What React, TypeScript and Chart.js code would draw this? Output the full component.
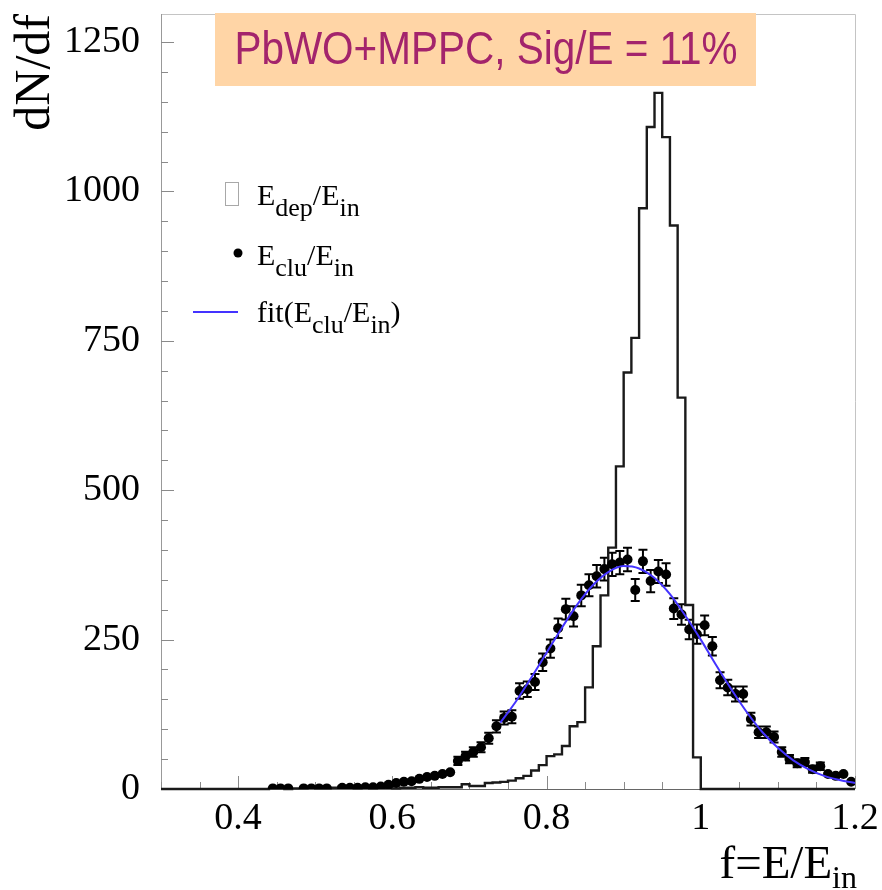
import React, { useEffect, useRef } from 'react';
import { Chart, registerables } from 'chart.js';

Chart.register(...registerables);

// ---------------- data ----------------
const X_MIN = 0.3;
const X_MAX = 1.2;
const Y_MIN = 0;
const Y_MAX = 1297;

const X_TICKS = [0.4, 0.6, 0.8, 1.0, 1.2];
const Y_TICKS = [0, 250, 500, 750, 1000, 1250];

// E_dep/E_in histogram: bins of width 0.01 starting at 0.30
const HIST_LO = 0.3;
const HIST_BIN = 0.01;
const HIST_COUNTS = [
  0, 0, 0, 0, 0, 0, 0, 0, 0, 0, // 0.30-0.39
  0, 0, 0, 0, 1, 1, 0, 1, 1, 2, // 0.40-0.49
  1, 1, 2, 4, 2, 1, 2, 1, 2, 2, // 0.50-0.59
  1, 2, 2, 3, 2, 2, 3, 3, 3, 8, // 0.60-0.69
  5, 5, 10, 11, 12, 14, 18, 22, 31, 40, // 0.70-0.79
  55, 58, 72, 105, 112, 170, 239, 324, 404, 540, // 0.80-0.89
  697, 755, 972, 1108, 1165, 1091, 943, 655, 308, 53, // 0.90-0.99
  0, 0, 0, 0, 0, 0, 0, 0, 0, 0, // 1.00-1.09
  0, 0, 0, 0, 0, 0, 0, 0, 0, 0, // 1.10-1.19
];

// E_clu/E_in points (bin centres)
const PT_X = [
  0.445, 0.455, 0.465, 0.485, 0.495, 0.505, 0.515, 0.535, 0.545, 0.555, 0.565, 0.575, 0.585,
  0.595, 0.605, 0.615, 0.625, 0.635, 0.645, 0.655, 0.665, 0.675,
  0.685, 0.695, 0.705, 0.715, 0.725, 0.735, 0.745, 0.755,
  0.765, 0.775, 0.785, 0.795, 0.805,
  0.815, 0.825, 0.835, 0.845, 0.855, 0.865, 0.875, 0.885, 0.895, 0.905,
  0.915, 0.925, 0.935, 0.945, 0.955, 0.965, 0.975, 0.985, 0.995,
  1.005, 1.015, 1.025, 1.035, 1.045, 1.055, 1.065, 1.075, 1.085, 1.095,
  1.105, 1.115, 1.125, 1.135, 1.145, 1.155, 1.165, 1.175, 1.185, 1.195,
];
const PT_Y = [
  1, 1, 1, 1, 1, 1, 1, 2, 2, 2, 3, 3, 4,
  7, 10, 12, 13, 17, 20, 22, 25, 28,
  47, 55, 62, 70, 85, 105, 119, 121,
  164, 167, 179, 212, 235,
  269, 301, 289, 324, 341, 356, 368, 376, 379, 384,
  333, 381, 348, 364, 359, 302, 292, 267, 259,
  274, 239, 182, 170, 159, 159, 117, 95, 95, 87,
  62, 50, 43, 45, 33, 38, 25, 22, 25, 12,
];

// fit(E_clu/E_in) curve
const FIT_X = [
  0.74, 0.76, 0.78, 0.8, 0.82, 0.84, 0.86, 0.88, 0.9, 0.92, 0.94, 0.96,
  0.98, 1.0, 1.02, 1.04, 1.06, 1.08, 1.1, 1.12, 1.14, 1.16, 1.18, 1.2,
];
const FIT_Y = [
  111, 146, 186, 228, 270, 309, 341, 363, 373, 369, 353, 326,
  290, 250, 207, 166, 128, 95, 69, 48, 33, 22, 15, 10,
];

const TITLE = 'PbWO+MPPC, Sig/E = 11%';

// ---------------- helpers ----------------
type Part = { t: string; sub?: boolean };

function drawRich(
  ctx: CanvasRenderingContext2D,
  x: number,
  base: number,
  parts: Part[],
  size: number,
  subSize: number,
  subDy: number,
  align: 'left' | 'right' = 'left'
) {
  const mainFont = `${size}px "Liberation Serif"`;
  const subFont = `${subSize}px "Liberation Serif"`;
  let w = 0;
  parts.forEach((p) => {
    ctx.font = p.sub ? subFont : mainFont;
    w += ctx.measureText(p.t).width;
  });
  let cx = align === 'right' ? x - w : x;
  ctx.textAlign = 'left';
  ctx.textBaseline = 'alphabetic';
  parts.forEach((p) => {
    ctx.font = p.sub ? subFont : mainFont;
    ctx.fillText(p.t, cx, p.sub ? base + subDy : base);
    cx += ctx.measureText(p.t).width;
  });
}

const rootPlugin = {
  id: 'rootStyle',
  beforeDatasetsDraw(chart: any) {
    const { ctx, chartArea: a, scales } = chart;
    const xs = scales.x;
    const ys = scales.y;
    ctx.save();
    // frame
    ctx.lineWidth = 1;
    ctx.strokeStyle = '#c4c4c4';
    ctx.beginPath();
    ctx.moveTo(a.left, a.top + 0.5);
    ctx.lineTo(a.right + 0.5, a.top + 0.5);
    ctx.lineTo(a.right + 0.5, a.bottom);
    ctx.stroke();
    ctx.strokeStyle = '#999';
    ctx.beginPath();
    ctx.moveTo(a.left + 0.5, a.top);
    ctx.lineTo(a.left + 0.5, a.bottom);
    ctx.stroke();
    ctx.strokeStyle = '#666';
    ctx.beginPath();
    ctx.moveTo(a.left, a.bottom + 0.5);
    ctx.lineTo(a.right, a.bottom + 0.5);
    ctx.stroke();

    // ticks (inward)
    ctx.strokeStyle = '#8a8a8a';
    ctx.beginPath();
    for (let v = 0; v <= Y_MAX; v += 50) {
      const py = Math.round(ys.getPixelForValue(v)) + 0.5;
      const len = Y_TICKS.includes(v) ? 13 : 7;
      ctx.moveTo(a.left, py);
      ctx.lineTo(a.left + len, py);
    }
    for (let i = 0; i <= 18; i++) {
      const v = X_MIN + i * 0.05;
      const px = Math.round(xs.getPixelForValue(v)) + 0.5;
      const major = X_TICKS.some((t) => Math.abs(t - v) < 1e-6);
      const len = major ? 13 : 7;
      ctx.moveTo(px, a.bottom);
      ctx.lineTo(px, a.bottom - len);
    }
    ctx.stroke();

    // error bars on E_clu points (Poisson)
    ctx.strokeStyle = '#000';
    ctx.lineWidth = 2;
    ctx.beginPath();
    PT_X.forEach((xv, i) => {
      const v = PT_Y[i];
      const e = Math.sqrt(v);
      const px = xs.getPixelForValue(xv);
      const y1 = ys.getPixelForValue(Math.max(0, v - e));
      const y2 = ys.getPixelForValue(v + e);
      ctx.moveTo(px, y1);
      ctx.lineTo(px, y2);
      if (v > 30) {
        ctx.moveTo(px - 4.5, y1);
        ctx.lineTo(px + 4.5, y1);
        ctx.moveTo(px - 4.5, y2);
        ctx.lineTo(px + 4.5, y2);
      }
    });
    ctx.stroke();
    ctx.restore();
  },
  afterDraw(chart: any) {
    const { ctx, chartArea: a } = chart;
    ctx.save();

    // legend
    ctx.strokeStyle = '#a8a8a8';
    ctx.lineWidth = 1;
    ctx.fillStyle = '#fff';
    ctx.fillRect(225.5, 182.5, 13, 23);
    ctx.strokeRect(225.5, 182.5, 13, 23);
    ctx.fillStyle = '#000';
    ctx.beginPath();
    ctx.arc(238, 253, 4.5, 0, Math.PI * 2);
    ctx.fill();
    ctx.strokeStyle = '#4433ff';
    ctx.lineWidth = 2;
    ctx.beginPath();
    ctx.moveTo(193, 312);
    ctx.lineTo(238, 312);
    ctx.stroke();

    ctx.fillStyle = '#000';
    drawRich(ctx, 257, 205, [{ t: 'E' }, { t: 'dep', sub: true }, { t: '/E' }, { t: 'in', sub: true }], 30, 26, 11);
    drawRich(ctx, 257, 265, [{ t: 'E' }, { t: 'clu', sub: true }, { t: '/E' }, { t: 'in', sub: true }], 30, 26, 11);
    drawRich(ctx, 257, 322, [{ t: 'fit(E' }, { t: 'clu', sub: true }, { t: '/E' }, { t: 'in', sub: true }, { t: ')' }], 30, 26, 11);

    // x-axis title
    drawRich(ctx, a.right + 2, 878, [{ t: 'f=E/E' }, { t: 'in', sub: true }], 47, 32, 10, 'right');

    // title box
    ctx.fillStyle = '#ffd5a6';
    ctx.fillRect(215, 13, 541, 73);
    ctx.save();
    ctx.translate(486, 50);
    ctx.scale(0.88, 1);
    ctx.fillStyle = '#a3246c';
    ctx.font = '46px "Liberation Sans"';
    ctx.textAlign = 'center';
    ctx.textBaseline = 'middle';
    ctx.fillText(TITLE, 0, 1);
    ctx.restore();

    ctx.restore();
  },
};

export default function App() {
  const ref = useRef<HTMLCanvasElement | null>(null);

  useEffect(() => {
    if (!ref.current) return;
    const histData: { x: number; y: number }[] = HIST_COUNTS.map((c, i) => ({
      x: HIST_LO + i * HIST_BIN,
      y: c,
    }));
    histData.push({ x: HIST_LO + HIST_COUNTS.length * HIST_BIN, y: 0 });

    const chart = new Chart(ref.current, {
      type: 'line',
      data: {
        datasets: [
          {
            type: 'line',
            label: 'fit(E_clu/E_in)',
            data: FIT_X.map((x, i) => ({ x, y: FIT_Y[i] })),
            borderColor: '#4433ff',
            borderWidth: 2,
            pointRadius: 0,
            cubicInterpolationMode: 'monotone',
            fill: false,
            clip: false,
          } as any,
          {
            type: 'scatter',
            label: 'E_clu/E_in',
            data: PT_X.map((x, i) => ({ x, y: PT_Y[i] })),
            pointRadius: 5,
            pointBackgroundColor: '#000',
            pointBorderColor: '#000',
            pointBorderWidth: 0,
            showLine: false,
            clip: { left: 0, top: 0, right: 0, bottom: 0 },
          } as any,
          {
            type: 'line',
            label: 'E_dep/E_in',
            data: histData,
            stepped: 'before',
            borderColor: '#1a1a1a',
            borderWidth: 2.4,
            pointRadius: 0,
            fill: false,
            clip: false,
            borderJoinStyle: 'miter',
          } as any,
        ],
      },
      options: {
        animation: false,
        responsive: false,
        devicePixelRatio: 1,
        layout: { padding: { left: 0, right: 27, top: 14, bottom: 0 } },
        plugins: {
          legend: { display: false },
          tooltip: { enabled: false },
          title: { display: false },
        },
        scales: {
          x: {
            type: 'linear',
            min: X_MIN,
            max: X_MAX,
            grid: { display: false, drawTicks: false },
            border: { display: false },
            afterBuildTicks: (s: any) => {
              s.ticks = X_TICKS.map((v) => ({ value: v }));
            },
            afterFit: (s: any) => {
              s.height = 101;
              s.paddingLeft = 0;
              s.paddingRight = 0;
            },
            ticks: {
              autoSkip: false,
              maxRotation: 0,
              minRotation: 0,
              padding: 7,
              color: '#000',
              font: { family: '"Liberation Serif"', size: 38 },
              callback: (v: any) => String(parseFloat(Number(v).toFixed(2))),
            },
          },
          y: {
            type: 'linear',
            min: Y_MIN,
            max: Y_MAX,
            grid: { display: false, drawTicks: false },
            border: { display: false },
            afterBuildTicks: (s: any) => {
              s.ticks = Y_TICKS.map((v) => ({ value: v }));
            },
            afterFit: (s: any) => {
              s.width = 161;
              s.paddingTop = 0;
              s.paddingBottom = 0;
            },
            title: {
              display: true,
              text: 'dN/df',
              align: 'end',
              color: '#000',
              font: { family: '"Liberation Serif"', size: 50, weight: 'normal' },
              padding: { top: 6, bottom: 0 },
            },
            ticks: {
              padding: 21,
              color: '#000',
              font: { family: '"Liberation Serif"', size: 38 },
              callback: (v: any) => String(v),
            },
          },
        },
      },
      plugins: [rootPlugin],
    });
    return () => chart.destroy();
  }, []);

  return (
    <div style={{ position: 'absolute', left: 0, top: 0, width: 882, height: 890, background: '#fff' }}>
      <canvas ref={ref} width={882} height={890} style={{ width: 882, height: 890, display: 'block' }} />
    </div>
  );
}
